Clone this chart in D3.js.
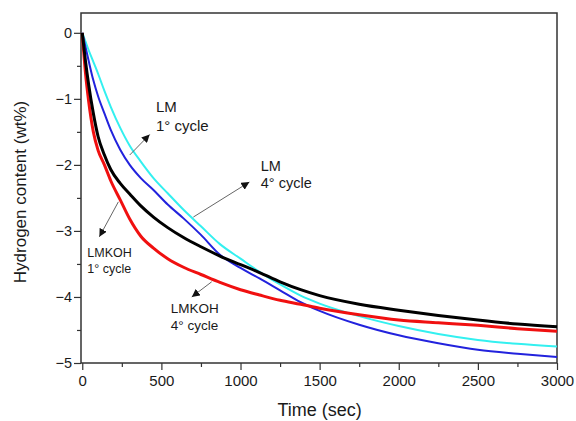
<!DOCTYPE html>
<html>
<head>
<meta charset="utf-8">
<script src="https://cdn.jsdelivr.net/npm/d3@7"></script>
<style>
  body { margin: 0; background: #fff; }
  svg text { font-family: "Liberation Sans", Arial, sans-serif; fill: #1a1a1a; }
  .tick line { stroke: #333; stroke-width: 1.2px; }
</style>
</head>
<body>
<div id="chart"></div>
<script>
// desorption curves, hydrogen content vs time
var time = [0, 20, 40, 70, 100, 140, 180, 240, 300, 370, 450, 540, 640, 750, 870,
  1000, 1120, 1250, 1380, 1500, 1750, 2000, 2250, 2500, 2750, 3000]

var lmkoh4 = [0, -0.6, -1.03, -1.5, -1.78, -2.0, -2.24, -2.53, -2.82, -3.08, -3.26, -3.42, -3.55, -3.66, -3.78,
  -3.89, -3.97, -4.05, -4.11, -4.17, -4.27, -4.35, -4.39, -4.43, -4.48, -4.52]
var lmkoh1 = [0, -0.42, -0.78, -1.22, -1.57, -1.85, -2.07, -2.28, -2.44, -2.62, -2.79, -2.95, -3.1, -3.24, -3.38,
  -3.51, -3.63, -3.77, -3.89, -3.98, -4.11, -4.2, -4.28, -4.35, -4.41, -4.45]
var lm1 = [0, -0.21, -0.42, -0.72, -0.96, -1.22, -1.47, -1.77, -2.0, -2.2, -2.38, -2.6, -2.81, -3.06, -3.36,
  -3.56, -3.72, -3.9, -4.08, -4.21, -4.42, -4.58, -4.7, -4.8, -4.86, -4.91]
var lm4 = [0, -0.13, -0.26, -0.44, -0.62, -0.88, -1.12, -1.44, -1.71, -1.95, -2.2, -2.43, -2.68, -2.93, -3.2,
  -3.42, -3.62, -3.81, -3.98, -4.1, -4.29, -4.44, -4.56, -4.65, -4.71, -4.75]

var xTicks = [0, 500, 1000, 1500, 2000, 2500, 3000]
var yTicks = [0, -1, -2, -3, -4, -5]

// annotations: text lines and arrow (tail -> head) in data units
var notes = [
  {lines: ["LM", "1° cycle"], x: 466, y: -1.2, gap: 19, size: 15, from: [300, -1.85], to: [426, -1.54]},
  {lines: ["LM", "4° cycle"], x: 1128, y: -2.09, gap: 17.5, size: 14.5, from: [702, -2.79], to: [1056, -2.26]},
  {lines: ["LMKOH", "1° cycle"], x: 32, y: -3.4, gap: 16, size: 12.5, from: [228, -2.56], to: [108, -3.09]},
  {lines: ["LMKOH", "4° cycle"], x: 559, y: -4.25, gap: 16.5, size: 13.5, from: [818, -3.77], to: [692, -4.0]}
]

var width = 576, height = 421
var margin = {top: 13, right: 19, bottom: 58, left: 81}

var svg = d3.select("#chart").append("svg")
  .attr("width", width)
  .attr("height", height)

var x = d3.scaleLinear().domain([-8, 3000]).range([margin.left, width - margin.right])
var y = d3.scaleLinear().domain([-5, 0.3]).range([height - margin.bottom, margin.top])

var defs = svg.append("defs")
defs.append("marker")
  .attr("id", "head")
  .attr("viewBox", "0 0 10 10")
  .attr("refX", 10).attr("refY", 5)
  .attr("markerWidth", 8).attr("markerHeight", 8)
  .attr("markerUnits", "userSpaceOnUse")
  .attr("orient", "auto")
  .append("path")
    .attr("d", "M0,0 L10,5 L0,10 z")
    .attr("fill", "#111")

// minor ticks
svg.append("g")
  .attr("transform", "translate(0," + y(-5) + ")")
  .call(d3.axisBottom(x).tickValues(d3.range(250, 3000, 500)).tickSize(4).tickFormat(""))
  .call(g => g.select(".domain").remove())
svg.append("g")
  .attr("transform", "translate(" + margin.left + ",0)")
  .call(d3.axisLeft(y).tickValues(d3.range(-4.5, 0, 1)).tickSize(4).tickFormat(""))
  .call(g => g.select(".domain").remove())

// major ticks
svg.append("g")
  .attr("transform", "translate(0," + y(-5) + ")")
  .call(d3.axisBottom(x).tickValues(xTicks).tickSize(7).tickPadding(5).tickFormat(d3.format("d")))
  .call(g => g.select(".domain").remove())
  .call(g => g.selectAll("text").attr("font-size", 15).attr("fill", "#1a1a1a"))

svg.append("g")
  .attr("transform", "translate(" + margin.left + ",0)")
  .call(d3.axisLeft(y).tickValues(yTicks).tickSize(7).tickPadding(2).tickFormat(d3.format("d")))
  .call(g => g.select(".domain").remove())
  .call(g => g.selectAll("text").attr("font-size", 14.5).attr("fill", "#1a1a1a"))

// frame
svg.append("rect")
  .attr("x", margin.left)
  .attr("y", margin.top)
  .attr("width", width - margin.left - margin.right)
  .attr("height", height - margin.top - margin.bottom)
  .attr("fill", "none")
  .attr("stroke", "#333")
  .attr("stroke-width", 1.5)

var line = d3.line()
  .x(function(d) { return x(d[0]); })
  .y(function(d) { return y(d[1]); })
  .curve(d3.curveMonotoneX)

var series = [
  {values: lm4, color: "#33f0f0", w: 2},
  {values: lm1, color: "#2222dd", w: 2},
  {values: lmkoh4, color: "#f01010", w: 3},
  {values: lmkoh1, color: "#000000", w: 3}
]

svg.append("g").selectAll("path")
  .data(series)
  .enter().append("path")
    .attr("d", function(s) { return line(time.map(function(t, i) { return [t, s.values[i]]; })); })
    .attr("fill", "none")
    .attr("stroke", function(s) { return s.color; })
    .attr("stroke-width", function(s) { return s.w; })
    .attr("stroke-linejoin", "round")

// annotations
var ann = svg.append("g")
ann.selectAll("line")
  .data(notes)
  .enter().append("line")
    .attr("x1", function(d) { return x(d.from[0]); })
    .attr("y1", function(d) { return y(d.from[1]); })
    .attr("x2", function(d) { return x(d.to[0]); })
    .attr("y2", function(d) { return y(d.to[1]); })
    .attr("stroke", "#666")
    .attr("stroke-width", 1)
    .attr("marker-end", "url(#head)")

notes.forEach(function(n) {
  n.lines.forEach(function(txt, i) {
    ann.append("text")
      .attr("x", x(n.x))
      .attr("y", y(n.y) + i * n.gap)
      .attr("font-size", n.size)
      .text(txt)
  })
})

// axis titles
svg.append("text")
  .attr("x", (x(0) + x(3000)) / 2)
  .attr("y", 416)
  .attr("text-anchor", "middle")
  .attr("font-size", 18)
  .text("Time (sec)")

svg.append("text")
  .attr("transform", "translate(26," + 192 + ")rotate(-90)")
  .attr("text-anchor", "middle")
  .attr("font-size", 17)
  .text("Hydrogen content (wt%)")
</script>
</body>
</html>
